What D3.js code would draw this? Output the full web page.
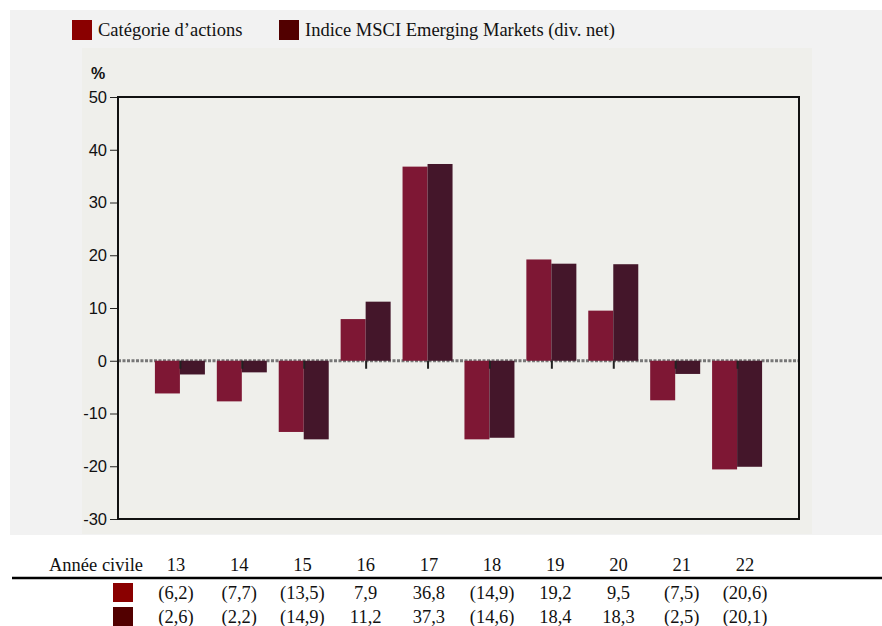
<!DOCTYPE html>
<html>
<head>
<meta charset="utf-8">
<script src="https://cdn.jsdelivr.net/npm/d3@7"></script>
<style>
  html, body { margin: 0; padding: 0; background: #ffffff; }
  svg { display: block; }
</style>
</head>
<body>
<div id="chart"></div>
<script>
var years = ['13', '14', '15', '16', '17', '18', '19', '20', '21', '22'];
var categorie = [-6.2, -7.7, -13.5, 7.9, 36.8, -14.9, 19.2, 9.5, -7.5, -20.6];
var indice = [-2.6, -2.2, -14.9, 11.2, 37.3, -14.6, 18.4, 18.3, -2.5, -20.1];
var seriesNames = ['Catégorie d\u2019actions', 'Indice MSCI Emerging Markets (div. net)'];
var yTicks = [-30, -20, -10, 0, 10, 20, 30, 40, 50];
var rowTitle = 'Année civile';

var width = 882, height = 626;
var barColors = ['#7e1734', '#44162a'];
var swatchColors = ['#8a0000', '#520000'];
var serif = '"Liberation Serif", "Times New Roman", serif';
var sans = '"Liberation Sans", Arial, sans-serif';

var svg = d3.select('#chart').append('svg')
    .attr('width', width)
    .attr('height', height);

// backgrounds
svg.append('rect').attr('x', 10).attr('y', 10).attr('width', width - 10).attr('height', 525)
    .attr('fill', '#f2f2f2');
svg.append('rect').attr('x', 82).attr('y', 48).attr('width', 730).attr('height', 486)
    .attr('fill', '#efefeb');

// legend
var legend = svg.append('g');
var legendX = [72, 279];
seriesNames.forEach(function(name, i) {
    legend.append('rect')
        .attr('x', legendX[i]).attr('y', 20).attr('width', 20).attr('height', 20)
        .attr('fill', swatchColors[i]);
    legend.append('text')
        .attr('x', legendX[i] + 26).attr('y', 36)
        .attr('font-family', serif).attr('font-size', 18.5).attr('fill', '#111')
        .text(name);
});

// plot
var plot = { left: 118, right: 799, top: 97, bottom: 519 };
var x = d3.scalePoint().domain(years).range([plot.left, plot.right]).padding(1);
var y = d3.scaleLinear().domain([-30, 50]).range([plot.bottom, plot.top]);
var barW = 25;

var yAxis = svg.append('g')
    .attr('transform', 'translate(' + plot.left + ',0)')
    .call(d3.axisLeft(y).tickValues(yTicks).tickSize(8).tickPadding(3)
        .tickFormat(function(d) { return String(d); }));
yAxis.select('.domain').remove();
yAxis.selectAll('line').attr('stroke', '#222');
yAxis.selectAll('text')
    .attr('font-family', sans).attr('font-size', 16.5).attr('fill', '#111');

svg.append('text')
    .attr('x', 98).attr('y', 79)
    .attr('text-anchor', 'middle')
    .attr('font-family', sans).attr('font-size', 16).attr('font-weight', 'bold')
    .attr('fill', '#111')
    .text('%');

// zero line
svg.append('line')
    .attr('x1', plot.left).attr('x2', plot.right)
    .attr('y1', y(0)).attr('y2', y(0))
    .attr('stroke', '#777').attr('stroke-width', 3)
    .attr('stroke-dasharray', '3,1.5');

// bars
[categorie, indice].forEach(function(values, s) {
    svg.append('g').selectAll('rect')
        .data(values)
        .join('rect')
        .attr('x', function(d, i) { return x(years[i]) - barW + s * barW; })
        .attr('y', function(d) { return y(Math.max(0, d)); })
        .attr('width', barW)
        .attr('height', function(d) { return Math.abs(y(d) - y(0)); })
        .attr('fill', barColors[s]);
});

// x ticks at zero line
var xAxis = svg.append('g')
    .attr('transform', 'translate(0,' + y(0) + ')')
    .call(d3.axisBottom(x).tickSize(8).tickFormat(''));
xAxis.select('.domain').remove();
xAxis.selectAll('line').attr('stroke', '#222').attr('stroke-width', 2);

// frame
svg.append('rect')
    .attr('x', plot.left).attr('y', plot.top)
    .attr('width', plot.right - plot.left).attr('height', plot.bottom - plot.top)
    .attr('fill', 'none').attr('stroke', '#111').attr('stroke-width', 2);

// table
var tx = d3.scalePoint().domain(years).range([176, 745]);
var fmt = function(v) {
    var s = d3.format('.1f')(Math.abs(v)).replace('.', ',');
    return v < 0 ? '(' + s + ')' : s;
};
var table = svg.append('g')
    .attr('font-family', serif).attr('font-size', 18.5).attr('fill', '#111');

table.append('text')
    .attr('x', 143).attr('y', 571)
    .attr('text-anchor', 'end')
    .text(rowTitle);
table.selectAll('text.year')
    .data(years)
    .join('text')
    .attr('class', 'year')
    .attr('x', function(d) { return tx(d); })
    .attr('y', 571)
    .attr('text-anchor', 'middle')
    .text(function(d) { return d; });

svg.append('line')
    .attr('x1', 12).attr('x2', width)
    .attr('y1', 578).attr('y2', 578)
    .attr('stroke', '#000').attr('stroke-width', 2.5);

var rowY = [599, 623];
[categorie, indice].forEach(function(values, s) {
    svg.append('rect')
        .attr('x', 113).attr('y', rowY[s] - 16).attr('width', 20).attr('height', 19)
        .attr('fill', swatchColors[s]);
    table.append('g').selectAll('text')
        .data(values)
        .join('text')
        .attr('x', function(d, i) { return tx(years[i]); })
        .attr('y', rowY[s])
        .attr('text-anchor', 'middle')
        .text(fmt);
});
</script>
</body>
</html>
